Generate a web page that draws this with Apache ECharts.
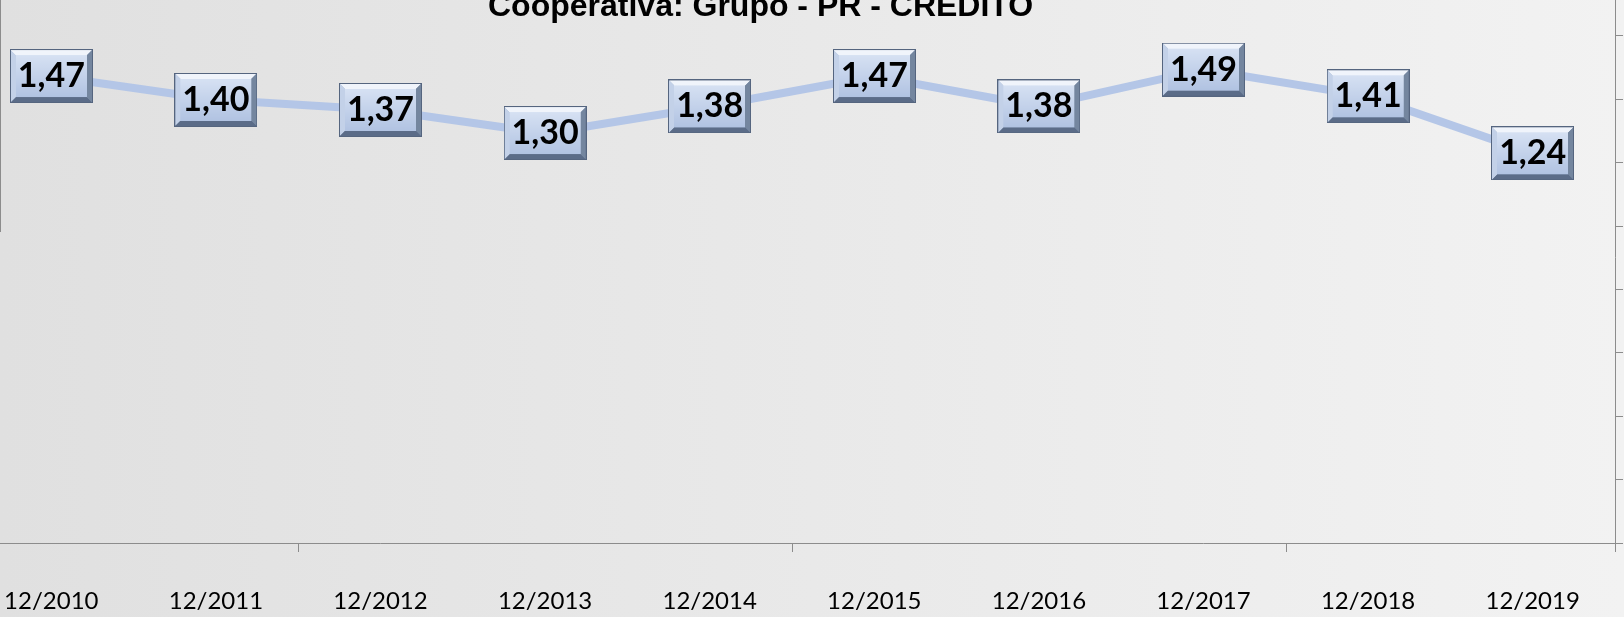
<!DOCTYPE html>
<html><head><meta charset="utf-8">
<script src="https://cdn.jsdelivr.net/npm/echarts@6/dist/echarts.min.js"></script>
<style>html,body{margin:0;padding:0;overflow:hidden;width:1624px;height:617px;position:relative;background:linear-gradient(to right,#e0e0e0,#f2f2f2);}
#c{position:absolute;left:-31px;top:-28px;width:1655px;height:645px;}</style>
</head><body><div id="c"></div>
<script>
const categories = ['12/2010','12/2011','12/2012','12/2013','12/2014','12/2015','12/2016','12/2017','12/2018','12/2019'];
const values = [1.47, 1.40, 1.37, 1.30, 1.38, 1.47, 1.38, 1.49, 1.41, 1.24];
const titleText = 'Cooperativa: Grupo - PR - CRÉDITO';

function poly(g, pts, fill){ g.beginPath(); g.moveTo(pts[0][0],pts[0][1]); for(let i=1;i<pts.length;i++) g.lineTo(pts[i][0],pts[i][1]); g.closePath(); g.fillStyle=fill; g.fill(); }
function bevel(){
  const c=document.createElement('canvas'); const W=166,H=108,b=12; c.width=W; c.height=H;
  const g=c.getContext('2d');
  g.fillStyle='#8a9cba'; g.fillRect(0,0,W,H);
  poly(g,[[0,0],[W,0],[W-b,b],[b,b]],'#f0f4fb');
  poly(g,[[0,0],[b,b],[b,H-b],[0,H]],'#c3d1e8');
  poly(g,[[W,0],[W,H],[W-b,H-b],[W-b,b]],'#74869f');
  poly(g,[[0,H],[b,H-b],[W-b,H-b],[W,H]],'#5b6c88');
  const gr=g.createLinearGradient(0,b,0,H-b); gr.addColorStop(0,'#d6e1f3'); gr.addColorStop(1,'#b1c3e2');
  g.fillStyle=gr; g.fillRect(b,b,W-2*b,H-2*b);
  g.strokeStyle='#55657f'; g.lineWidth=2; g.strokeRect(1,1,W-2,H-2);
  return c;
}
const bev = bevel();
const chart = echarts.init(document.getElementById('c'), null, {renderer:'canvas'});
chart.setOption({
  backgroundColor:'transparent',
  animation:false,
  title:{text:titleText, left:514, top:14, textStyle:{fontFamily:'Liberation Sans', fontWeight:'bold', fontSize:32, color:'#000'}},
  grid:{left:0, right:9, top:0, bottom:74, containLabel:false},
  graphic:[{type:'line', shape:{x1:31.5,y1:28,x2:31.5,y2:260}, style:{stroke:'#8c8c8c', lineWidth:1}}],
  xAxis:{type:'category', data:categories, boundaryGap:true,
    axisLine:{lineStyle:{color:'#8c8c8c', width:1}},
    axisTick:{show:true, interval:(i)=> i%3===2, length:9, lineStyle:{color:'#8c8c8c'}},
    axisLabel:{interval:0, margin:46, fontFamily:'Lato', fontSize:24, color:'#000'}},
  yAxis:[
    {type:'value', min:0.078, max:1.781, show:false, position:'left'},
    {type:'value', position:'right', min:0, max:9, interval:1,
      axisLine:{show:true, lineStyle:{color:'#8c8c8c'}}, axisTick:{show:true, length:8, lineStyle:{color:'#8c8c8c'}},
      axisLabel:{show:false}, splitLine:{show:false}}
  ],
  series:[{type:'line', yAxisIndex:0, data:values, symbol:'circle', symbolSize:2,
    itemStyle:{color:'#b4c6e7'}, lineStyle:{color:'#b4c6e7', width:8},
    label:{show:true, position:'inside', formatter:p=>p.value.toFixed(2).replace('.',','),
      fontFamily:'Lato', fontWeight:'bold', fontSize:34, color:'#000',
      width:83, height:54, lineHeight:54, align:'center', verticalAlign:'middle', padding:0,
      backgroundColor:{image:bev}}}]
});
</script></body></html>
